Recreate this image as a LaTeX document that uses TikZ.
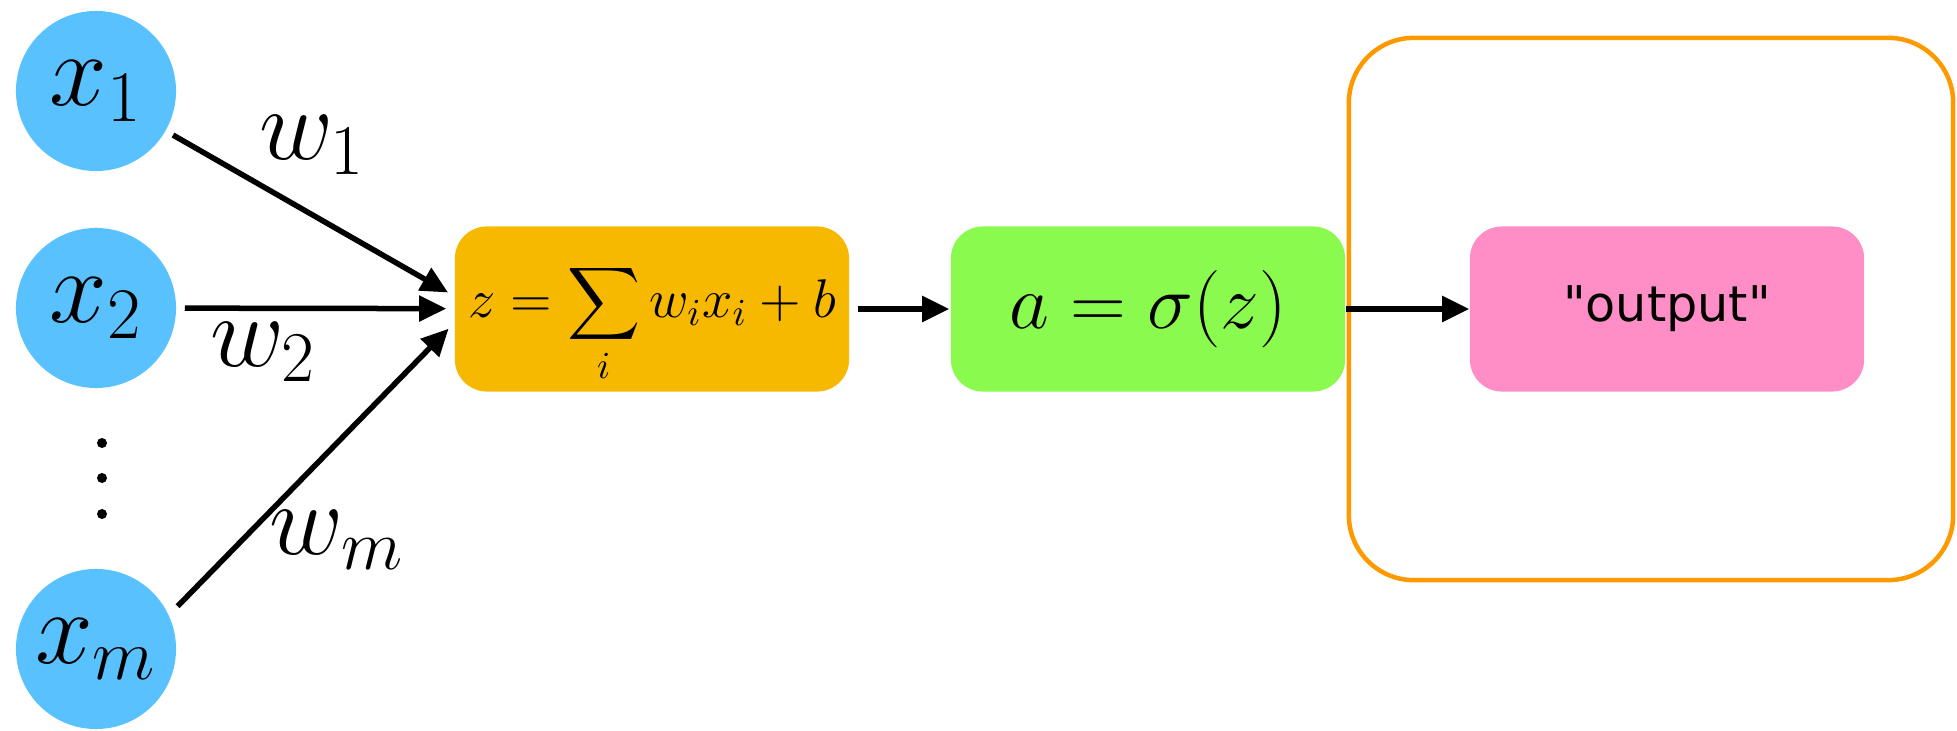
\RequirePackage{fix-cm}
\documentclass[tikz,border=0pt]{standalone}
\usepackage{amsmath}
\usepackage{fontspec}
\newfontfamily\outfont{DejaVu Sans}
\usepackage{xcolor}
\usepackage{tikz}
\usetikzlibrary{arrows.meta}

\definecolor{inblue}{HTML}{5AC1FF}
\definecolor{sumorange}{HTML}{F7B900}
\definecolor{actgreen}{HTML}{8AFB4E}
\definecolor{outpink}{HTML}{FF8EC6}
\definecolor{frameorange}{HTML}{FF9900}

\begin{document}
\begin{tikzpicture}[x=0.01cm, y=-0.01cm,
  conn/.style={-{Triangle[length=0.27cm, width=0.25cm]}, line width=0.055cm},
  innode/.style={circle, fill=inblue, minimum size=1.6cm, inner sep=0pt, font=\fontsize{29.5}{34}\selectfont},
  wlabel/.style={inner sep=0pt, font=\fontsize{29}{34}\selectfont},
  unit/.style={rounded corners=0.32cm, minimum width=3.94cm, minimum height=1.65cm, inner sep=0pt}]
\useasboundingbox (0,0) rectangle (1957,731);
\node[innode] (x1) at (96,91) {$x_1$};
\node[innode] (x2) at (96,308) {$x_2$};
\node[innode] (xm) at (96,649) {$x_m$};
\foreach \y in {443,478,514} \fill (102,\y) circle[radius=0.05cm];
\node[unit, fill=sumorange, font=\fontsize{15.5}{19}\selectfont, text height=0.9em, text depth=0.4em] (sum) at (652,309) {$z=\displaystyle\sum_i w_ix_i+b$};
\node[unit, fill=actgreen, font=\fontsize{22}{26}\selectfont] (act) at (1148,309) {$a=\sigma(z)$};
\node[draw=frameorange, line width=0.045cm, rounded corners=0.65cm, minimum width=6.04cm, minimum height=5.42cm] (frame) at (1651,309) {};
\node[unit, fill=outpink, font=\outfont\fontsize{14}{17}\selectfont] (out) at (1667,309) {"output"};
\draw[conn, shorten <=0.08cm, shorten >=0.07cm] (x1) -- ([yshift=0.13cm]sum.west);
\draw[conn, shorten <=0.08cm, shorten >=0.08cm] (x2) -- (sum);
\draw[conn, shorten <=0.12cm, shorten >=0.08cm] (xm.25) -- ([yshift=-0.14cm]sum.west);
\draw[conn, shorten <=0.08cm, shorten >=0.01cm] (sum) -- (act);
\draw[conn] (act) -- (out);
\node[wlabel] (w1) at (312,145) {$w_1$};
\node[wlabel] (w2) at (263,352) {$w_2$};
\node[wlabel] (wm) at (337,540) {$w_m$};
\end{tikzpicture}
\end{document}
